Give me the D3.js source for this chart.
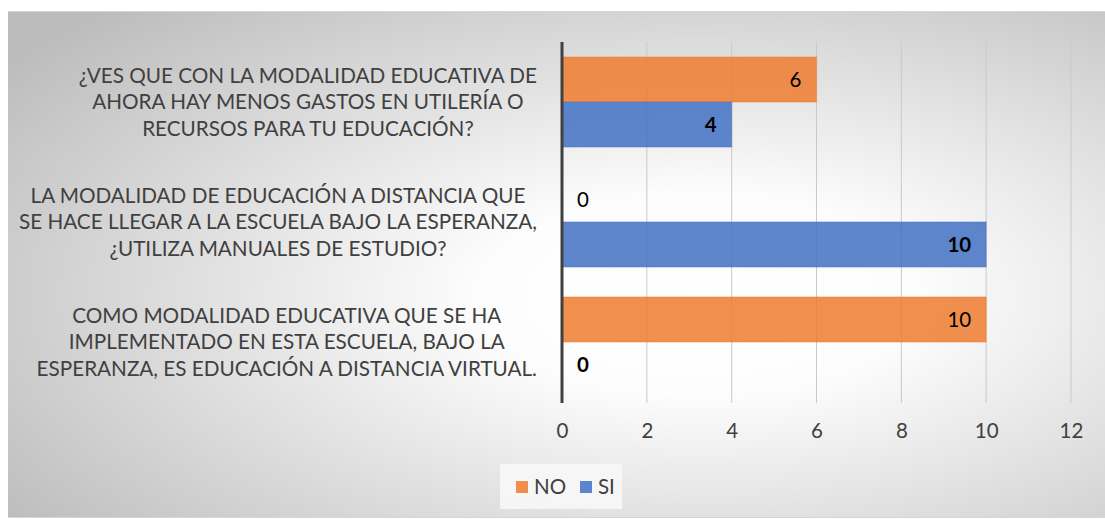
<!DOCTYPE html>
<html>
<head>
<meta charset="utf-8">
<script src="https://cdn.jsdelivr.net/npm/d3@7"></script>
<style>
  body { margin: 0; background: #fff; }
  text { font-family: Lato, "Open Sans", sans-serif; }
</style>
</head>
<body>
<div id="chart"></div>
<script>
// data
const preguntas = [
  ["¿VES QUE CON LA MODALIDAD EDUCATIVA DE", "AHORA HAY MENOS GASTOS EN UTILERÍA O", "RECURSOS PARA TU EDUCACIÓN?"],
  ["LA MODALIDAD DE EDUCACIÓN A DISTANCIA QUE", "SE HACE LLEGAR A LA ESCUELA BAJO LA ESPERANZA,", "¿UTILIZA MANUALES DE ESTUDIO?"],
  ["COMO MODALIDAD EDUCATIVA QUE SE HA", "IMPLEMENTADO EN ESTA ESCUELA, BAJO LA", "ESPERANZA, ES EDUCACIÓN A DISTANCIA VIRTUAL."]
]
const series = ["NO", "SI"]
const valoresNO = [6, 0, 10]
const valoresSI = [4, 10, 0]
const ticks = [0, 2, 4, 6, 8, 10, 12]

const colores = {NO: "#ED7D31", SI: "#4472C4"}
const W = 1105, H = 519

let svg = d3.select('#chart').append('svg').attr('width', W).attr('height', H)

let defs = svg.append('defs')
let grad = defs.append('radialGradient').attr('id', 'fondo')
  .attr('cx', 0.63).attr('cy', 0.56).attr('r', 0.78)
grad.append('stop').attr('offset', 0).attr('stop-color', '#ffffff')
grad.append('stop').attr('offset', 0.25).attr('stop-color', '#fdfdfd')
grad.append('stop').attr('offset', 1).attr('stop-color', '#bcbcbc')

// chart area
svg.append('rect').attr('x', 8).attr('y', 11).attr('width', W - 8).attr('height', 507)
  .attr('fill', '#d6d6d6')
svg.append('rect').attr('x', 8).attr('y', 12).attr('width', W - 8).attr('height', 505)
  .attr('fill', 'url(#fondo)')

let rows = preguntas.map((p, i) => ({i: i, lines: p, NO: valoresNO[i], SI: valoresSI[i]}))

let x = d3.scaleLinear().domain([0, 12]).range([562, 1071])
let y = d3.scaleBand().domain(rows.map(d => d.i)).range([42, 402])
  .paddingInner(0.25).paddingOuter(0.125)
let ySub = d3.scaleBand().domain(series).range([0, y.bandwidth()])

// grid
let grid = svg.append('g')
grid.selectAll('line').data(ticks.slice(1)).join('line')
  .attr('x1', d => x(d)).attr('x2', d => x(d))
  .attr('y1', 42).attr('y2', 403)
  .attr('stroke', '#c9c9c9').attr('stroke-width', 1)

// tick labels
let xaxis = d3.axisBottom(x).tickValues(ticks).tickSize(0).tickPadding(0)
let gx = svg.append('g').attr('transform', 'translate(0,423)').call(xaxis)
gx.select('.domain').remove()
gx.selectAll('text').attr('font-size', 20.5).attr('fill', '#404040')
  .style('font-family', 'Lato, sans-serif')

// bars
let grupos = svg.append('g').selectAll('g').data(rows).join('g')
  .attr('transform', d => 'translate(0,' + y(d.i) + ')')
grupos.selectAll('rect').data(d => series.map(s => ({s: s, v: d[s]}))).join('rect')
  .attr('x', x(0))
  .attr('y', d => ySub(d.s))
  .attr('width', d => x(d.v) - x(0))
  .attr('height', ySub.bandwidth())
  .attr('fill', d => colores[d.s]).attr('fill-opacity', 0.86)
  .attr('stroke', d => colores[d.s]).attr('stroke-opacity', 0.35).attr('stroke-width', 1.5)

grupos.selectAll('text.val').data(d => series.map(s => ({s: s, v: d[s]}))).join('text')
  .attr('class', 'val')
  .attr('x', d => d.v > 0 ? x(d.v) - 15 : x(0) + 15)
  .attr('y', d => ySub(d.s) + ySub.bandwidth() / 2)
  .attr('dy', '0.35em')
  .attr('text-anchor', d => d.v > 0 ? 'end' : 'start')
  .attr('font-size', 20.5)
  .attr('font-weight', d => d.s == 'SI' ? 'bold' : 'normal')
  .attr('fill', '#000')
  .text(d => d.v)

// zero axis line
svg.append('line').attr('x1', x(0)).attr('x2', x(0)).attr('y1', 42).attr('y2', 403)
  .attr('stroke', '#404040').attr('stroke-width', 3)

// category labels, centered block right-aligned next to the axis
let cats = svg.append('g').selectAll('text').data(rows).join('text')
  .attr('font-size', 20.7).attr('fill', '#404040').attr('text-anchor', 'middle')
cats.each(function(d) {
  let t = d3.select(this)
  let cy = y(d.i) + y.bandwidth() / 2
  d.lines.forEach((l, k) => {
    t.append('tspan').attr('x', 0).attr('y', cy + (k - 1) * 26.5).attr('dy', '0.35em').text(l)
  })
  let w = this.getBBox().width
  t.selectAll('tspan').attr('x', 537 - w / 2)
})

// legend
let leg = svg.append('g')
leg.append('rect').attr('x', 500).attr('y', 464).attr('width', 122).attr('height', 45)
  .attr('fill', '#f7f7f7').attr('fill-opacity', 0.9)
let legItems = [{s: 'NO', x: 516}, {s: 'SI', x: 580}]
leg.selectAll('rect.key').data(legItems).join('rect').attr('class', 'key')
  .attr('x', d => d.x).attr('y', 481).attr('width', 12).attr('height', 12)
  .attr('fill', d => colores[d.s]).attr('fill-opacity', 0.86)
leg.selectAll('text').data(legItems).join('text')
  .attr('x', d => d.x + 18).attr('y', 487).attr('dy', '0.35em')
  .attr('font-size', 20.5).attr('fill', '#404040')
  .text(d => d.s)
</script>
</body>
</html>
